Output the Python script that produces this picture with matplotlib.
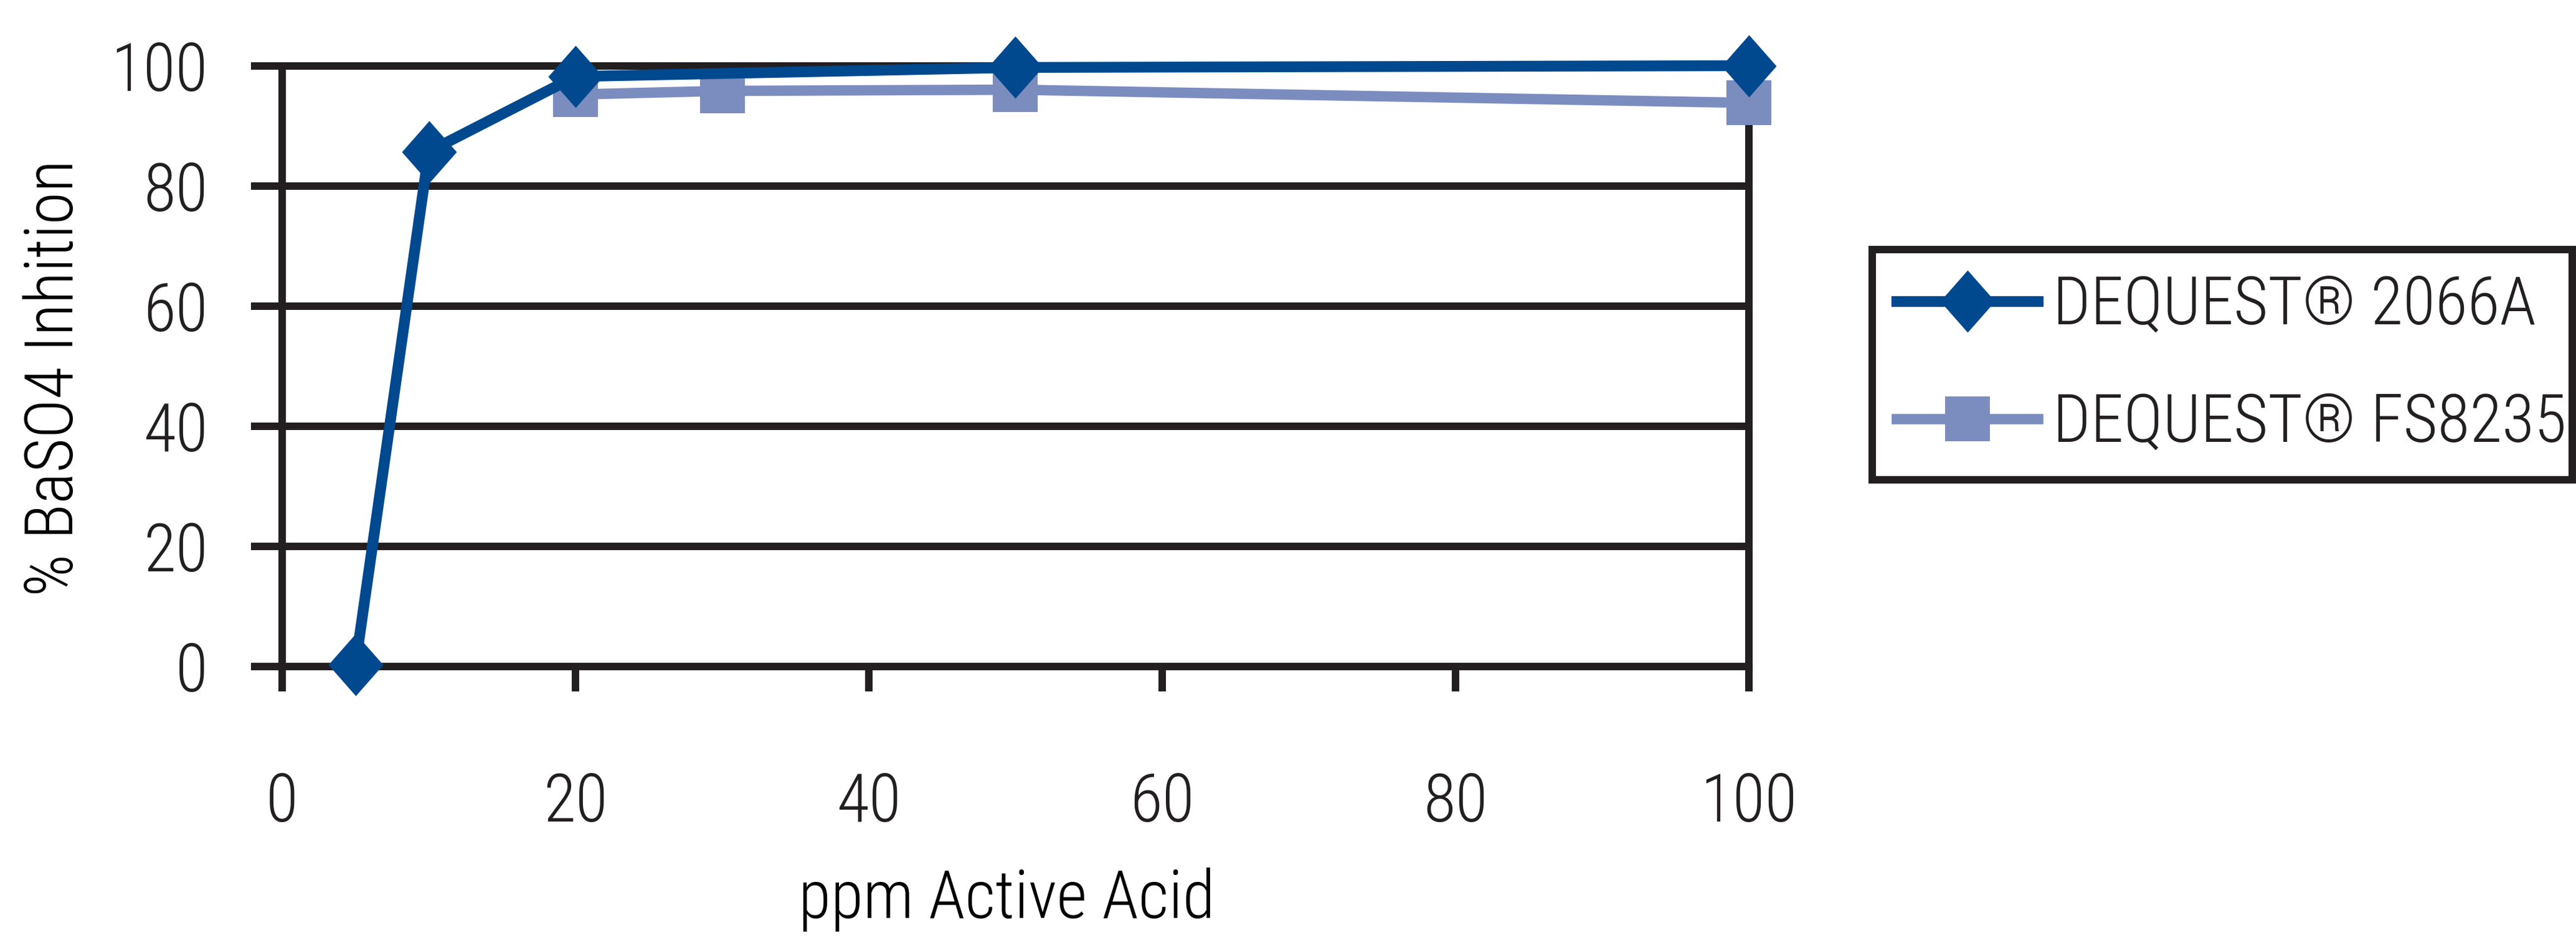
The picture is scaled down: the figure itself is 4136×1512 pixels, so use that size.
import matplotlib

matplotlib.use("Agg")
import matplotlib.pyplot as plt
from matplotlib import font_manager as fm
from matplotlib.path import Path

# ppm active acid vs % BaSO4 inhibition
x_2066a = [5, 10, 20, 50, 100]
y_2066a = [0.3, 85.7, 98.2, 99.7, 100.0]
x_fs8235 = [20, 30, 50, 100]
y_fs8235 = [95.2, 95.8, 96.0, 93.8]
labels = ["DEQUEST® 2066A", "DEQUEST® FS8235"]
ticks = [0, 20, 40, 60, 80, 100]

INK = "#231f20"
DARK_BLUE = "#00498f"
LIGHT_BLUE = "#7b8cbf"

# the reference uses a light condensed grotesque; take the narrowest installed match
family, stretch = "DejaVu Sans", "normal"
fonts = fm.fontManager.ttflist
for want in ["Liberation Sans Narrow", "Roboto Condensed", "Open Sans Condensed",
             "Noto Sans Condensed", "DejaVu Sans Condensed"]:
    if any(f.name == want for f in fonts):
        family = want
        break
else:
    for f in fonts:
        if f.name in ("DejaVu Sans", "Open Sans", "Noto Sans", "Roboto", "Liberation Sans") \
                and str(f.stretch) in ("condensed", "semi-condensed") and f.style == "normal":
            family, stretch = f.name, str(f.stretch)
            break
plt.rcParams["font.family"] = [family, "DejaVu Sans"]
plt.rcParams["font.stretch"] = stretch
plt.rcParams["font.weight"] = "light"
plt.rcParams["axes.labelweight"] = "light"
plt.rcParams["text.color"] = INK

W, H = 4136, 1512
fig = plt.figure(figsize=(W / 100, H / 100), dpi=100)
renderer = fig.canvas.get_renderer()

# size text so it sits between the reference's cap height and its width
probe = fig.text(0, 0, "ppm Active Acid", fontsize=80)
w = probe.get_window_extent(renderer).width
probe.remove()
FS = min(80.0, 80.0 * (641.0 / w) ** 0.5)
probe = fig.text(0, 0, labels[1], fontsize=FS)
text_h = probe.get_window_extent(renderer).height
probe.remove()

# axes box in pixels: x 453..2808, y 105.5..1071
ax = fig.add_axes([453 / W, 1 - 1071 / H, (2808 - 453) / W, (1071 - 105.5) / H])

diamond = Path([(0, 0.5), (0.44, 0), (0, -0.5), (-0.44, 0), (0, 0.5)],
               [Path.MOVETO, Path.LINETO, Path.LINETO, Path.LINETO, Path.CLOSEPOLY])

ax.plot(x_fs8235, y_fs8235, color=LIGHT_BLUE, lw=12, marker="s", ms=52,
        mew=0, solid_joinstyle="miter", clip_on=False, zorder=3, label=labels[1])
ax.plot(x_2066a, y_2066a, color=DARK_BLUE, lw=12.5, marker=diamond, ms=72,
        mew=0, solid_joinstyle="miter", clip_on=False, zorder=4, label=labels[0])

ax.set_xlim(0, 100)
ax.set_ylim(0, 100)
ax.set_xticks(ticks)
ax.set_yticks(ticks)

lw = 8.6
for side in ["left", "right", "bottom", "top"]:
    ax.spines[side].set_linewidth(lw)
    ax.spines[side].set_color(INK)
ax.yaxis.grid(True, color=INK, linewidth=lw)
ax.set_axisbelow(True)

ax.tick_params(axis="y", direction="out", length=36, width=lw, color=INK,
               pad=50, labelsize=FS, labelcolor=INK)
ax.tick_params(axis="x", direction="out", length=29, width=lw, color=INK,
               pad=92, labelsize=FS, labelcolor=INK)

ax.set_xlabel("ppm Active Acid", fontsize=FS, fontweight="light", va="baseline")
ax.xaxis.set_label_coords(0.494, -0.418)
ax.set_ylabel("% BaSO4 Inhition", fontsize=FS, fontweight="light", va="center")
ax.yaxis.set_label_coords(-0.155, 0.48)

# legend box in pixels: x 3006..4130, y 401..771 (frame centre line)
px = 100 / 72  # pixels per point
fs_px = FS * px
pad_px = max(10.0, (370 - 189 - text_h) / 2)
handles, lbls = ax.get_legend_handles_labels()
leg = fig.legend(handles[::-1], lbls[::-1], loc="upper left",
                 bbox_to_anchor=(3006 / W, 1 - 771 / H, (4130 - 3006) / W, 370 / H),
                 mode="expand", fontsize=FS, frameon=True, fancybox=False,
                 edgecolor=INK, framealpha=1, borderpad=pad_px / fs_px, borderaxespad=0,
                 handlelength=227 / fs_px, handletextpad=24 / fs_px,
                 labelspacing=max(0.1, (189 - text_h) / fs_px), numpoints=1)
leg.get_frame().set_linewidth(lw)

fig.savefig("out.png", dpi=100, facecolor="white")
